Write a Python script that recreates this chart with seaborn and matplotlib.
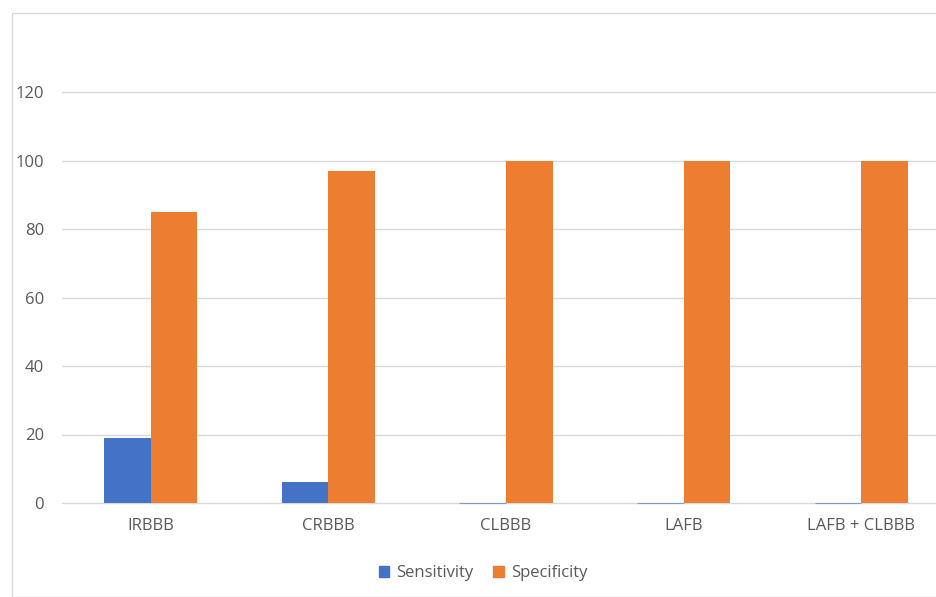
import matplotlib
matplotlib.use("Agg")
import matplotlib.pyplot as plt
import matplotlib.patches as mpatches
import seaborn as sns
import pandas as pd

categories = ["IRBBB", "CRBBB", "CLBBB", "LAFB", "LAFB + CLBBB"]
sensitivity = [19, 6, 0, 0, 0]
specificity = [85, 97, 100, 100, 100]
series_names = ["Sensitivity", "Specificity"]
y_ticks = [0, 20, 40, 60, 80, 100, 120]

df = pd.DataFrame({
    "category": categories * 2,
    "series": [series_names[0]] * len(categories) + [series_names[1]] * len(categories),
    "value": sensitivity + specificity,
})

sns.set_theme(style="white")
plt.rcParams["font.family"] = ["Open Sans", "DejaVu Sans"]

W, H = 937, 597
fig = plt.figure(figsize=(W / 100, H / 100), dpi=100)
fig.patch.set_facecolor("white")

# chart frame
frame = mpatches.Rectangle((12 / W, 0.5 / H), 1.2, (H - 13 - 0.5) / H,
                           transform=fig.transFigure, fill=False,
                           edgecolor="#D9D9D9", linewidth=1.0, zorder=0)
fig.patches.append(frame)

left, right = 62, 950
bottom, top = 503, 92
ax = fig.add_axes([left / W, (H - bottom) / H, (right - left) / W, (bottom - top) / H])
ax.set_facecolor("none")

colors = {"Sensitivity": "#4472C4", "Specificity": "#ED7D31"}
sns.barplot(data=df, x="category", y="value", hue="series", palette=colors,
            width=0.525, ax=ax, linewidth=0, legend=False, saturation=1)

# zero-valued bars still show as a thin line on the baseline
for bar in ax.patches:
    if bar.get_height() == 0:
        bar.set_edgecolor(bar.get_facecolor())
        bar.set_linewidth(0.8)
        bar.set_alpha(0.6)
        bar.set_clip_on(False)

ax.set_ylim(0, 120)
ax.set_xlim(-0.5, len(categories) - 0.5)
ax.set_yticks(y_ticks)
ax.set_yticklabels([str(t) for t in y_ticks])
ax.yaxis.grid(True, color="#D9D9D9", linewidth=1.0)
for g in ax.get_ygridlines():
    g.set_clip_on(False)
ax.set_axisbelow(True)
for s in ax.spines.values():
    s.set_visible(False)
ax.tick_params(axis="both", length=0, colors="#595959", labelsize=12)
ax.tick_params(axis="y", pad=13)
ax.tick_params(axis="x", pad=11)
ax.set_xlabel("")
ax.set_ylabel("")

handles = [mpatches.Patch(color=colors[n], label=n) for n in series_names]
leg = fig.legend(handles=handles, loc="center", bbox_to_anchor=(483 / W, (H - 573) / H),
                 ncol=2, frameon=False, fontsize=12, handlelength=0.65,
                 handleheight=0.65, handletextpad=0.4, columnspacing=1.2)
for t in leg.get_texts():
    t.set_color("#595959")

fig.savefig("out.png", dpi=100, facecolor="white")
